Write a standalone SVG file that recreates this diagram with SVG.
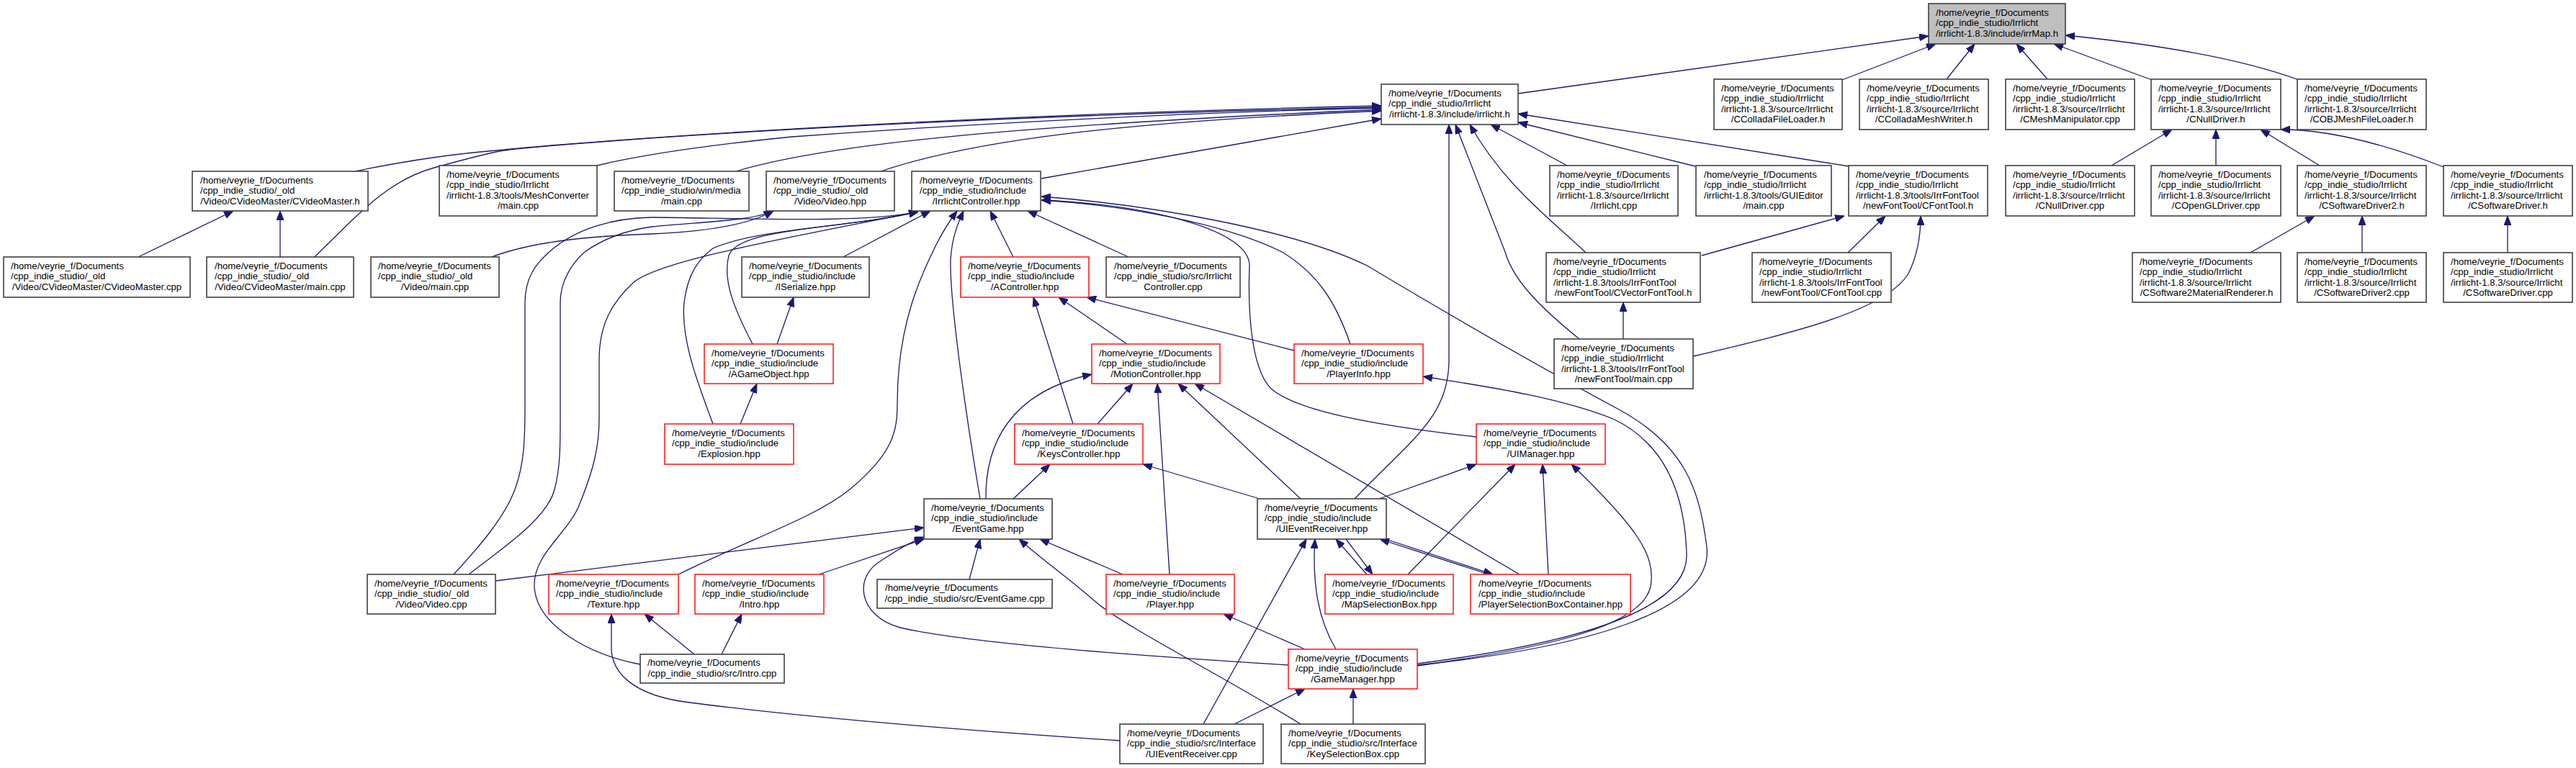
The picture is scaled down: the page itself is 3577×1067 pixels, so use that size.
<svg xmlns="http://www.w3.org/2000/svg" width="3577" height="1067" viewBox="0 0 3577 1067">
<style>
.n rect{fill:#fff;stroke:#404040;stroke-width:1.6}
.n.r rect{stroke:#ff2020}
.n.g rect{fill:#bfbfbf}
text{font-family:"Liberation Sans",Arial,sans-serif;font-size:13.2px;fill:#000}
.c{text-anchor:middle}
#edges path{fill:none;stroke:#191970;stroke-width:1.3;marker-end:url(#ah)}
</style>
<defs>
<marker id="ah" viewBox="0 0 13 10" refX="13" refY="5" markerWidth="13" markerHeight="10" markerUnits="userSpaceOnUse" orient="auto"><path d="M0,0L13,5L0,10z" fill="#191970" stroke="#191970" stroke-width="1"/></marker>
</defs>
<rect width="3577" height="1067" fill="#fff"/>
<g id="edges">
<path d="M2108,130 L2678,50"/>
<path d="M2558,111 L2688,61"/>
<path d="M2703,110 L2742,61"/>
<path d="M2843,110 L2800,61"/>
<path d="M2988,111 L2852,61"/>
<path d="M3192,111 Q3080,70 2868,49"/>
<path d="M2932,230 L3016,180"/>
<path d="M3077,230 L3077,180"/>
<path d="M3221,230 L3139,180"/>
<path d="M3393,232 Q3260,180 3167,180"/>
<path d="M3125,351 L3214,300"/>
<path d="M3280,351 L3280,300"/>
<path d="M3482,351 L3482,300"/>
<path d="M493,238 C580,220 640,213 689,209 C800,197 1300,160 1918,147"/>
<path d="M436,358 C500,295 540,250 603,233 C650,220 680,212 700,209 C820,195 1300,162 1918,149"/>
<path d="M829,230 C900,213 1000,200 1100,190 C1400,168 1700,155 1918,150"/>
<path d="M1022,238 C1150,200 1400,175 1918,152"/>
<path d="M1223,238 C1350,195 1550,170 1918,154"/>
<path d="M1446,248 L1918,165"/>
<path d="M1881,693 C1960,610 2012,580 2012,500 L2012,173"/>
<path d="M2193,471 C2130,420 2100,385 2090,350 L2021,173"/>
<path d="M2202,351 C2160,310 2090,260 2041,173"/>
<path d="M2176,230 L2070,173"/>
<path d="M2354,231 L2108,170"/>
<path d="M2567,231 L2108,158"/>
<path d="M2363,355 L2561,300"/>
<path d="M2566,351 L2618,300"/>
<path d="M2351,495 C2500,460 2620,430 2650,380 C2665,350 2667,320 2667,300"/>
<path d="M2254,471 L2254,420"/>
<path d="M1171,357 L1292,293"/>
<path d="M942,798 C1050,745 1130,720 1180,680 C1240,630 1246,600 1246,560 C1246,450 1280,380 1300,340 C1310,320 1320,305 1329,293"/>
<path d="M1361,693 C1345,600 1318,420 1320,360 C1322,330 1330,310 1338,293"/>
<path d="M1407,357 L1375,293"/>
<path d="M1567,357 L1427,293"/>
<path d="M1045,478 C1020,430 1003,390 1012,355 C1025,315 1180,318 1275,294"/>
<path d="M990,589 C968,530 945,470 950,420 C955,380 970,360 990,345 C1050,318 1180,316 1275,294"/>
<path d="M889,923 C820,910 745,870 742,815 C740,770 790,740 805,700 C825,650 832,620 832,580 L832,500 C832,450 850,420 880,392 C920,360 1100,330 1275,294"/>
<path d="M630,798 C665,760 700,720 715,680 C728,645 729,610 729,560 L729,420 C729,385 745,365 765,348 C800,318 850,303 905,302 C1000,302 1200,312 1275,294"/>
<path d="M651,798 C700,760 760,720 770,680 C778,650 778,620 778,580 L778,420 C778,390 795,365 812,350 C840,330 870,320 905,315 C970,308 1040,308 1074,293"/>
<path d="M680,358 C740,335 820,328 905,325 C980,322 1040,312 1074,293"/>
<path d="M688,807 L1283,733"/>
<path d="M1137,798 L1283,749"/>
<path d="M1346,805 L1361,749"/>
<path d="M1559,798 L1444,749"/>
<path d="M1806,1006 C1700,940 1560,870 1520,835 C1480,800 1450,780 1415,749"/>
<path d="M1789,924 C1600,912 1350,895 1250,872 C1190,855 1185,800 1225,778 C1245,765 1260,755 1283,746"/>
<path d="M964,909 L895,853"/>
<path d="M1555,1029 C1300,1012 1100,995 950,975 C880,965 849,935 849,900 L849,853"/>
<path d="M1002,909 L1030,853"/>
<path d="M1812,902 L1699,853"/>
<path d="M1524,589 L1573,533"/>
<path d="M1369,693 C1368,620 1400,545 1516,520"/>
<path d="M1624,798 L1607,533"/>
<path d="M1806,693 L1636,533"/>
<path d="M2110,798 L1659,533"/>
<path d="M1407,693 L1458,645"/>
<path d="M1746,692 L1587,645"/>
<path d="M1490,589 L1435,413"/>
<path d="M1565,478 L1470,413"/>
<path d="M1797,487 L1509,413"/>
<path d="M1079,478 L1102,413"/>
<path d="M1028,589 L1051,533"/>
<path d="M1875,478 C1855,420 1830,380 1780,350 C1700,310 1560,285 1446,278"/>
<path d="M2050,607 C1900,590 1800,570 1765,540 C1735,510 1733,420 1735,370 C1737,320 1600,285 1446,278"/>
<path d="M1968,924 C2200,900 2380,850 2370,760 C2360,680 2340,620 2250,570 C2120,500 2000,430 1900,370 C1800,320 1600,285 1446,273"/>
<path d="M1968,922 C2180,895 2345,850 2342,770 C2340,700 2320,620 2240,582 C2160,550 2050,535 1976,523"/>
<path d="M1968,925 C2150,900 2280,870 2292,815 C2300,770 2270,730 2182,645"/>
<path d="M1915,693 L2050,645"/>
<path d="M1955,798 L2104,645"/>
<path d="M2150,798 L2142,645"/>
<path d="M1898,798 L1855,749"/>
<path d="M1869,749 L1906,798"/>
<path d="M2067,798 L1916,749"/>
<path d="M1924,749 L2073,798"/>
<path d="M1855,902 C1830,860 1822,810 1826,749"/>
<path d="M1671,1006 L1814,749"/>
<path d="M1714,1006 L1812,957"/>
<path d="M1879,1006 L1879,957"/>
<path d="M192,357 L324,293"/>
<path d="M389,357 L389,293"/>
</g>
<g id="n0" class="n g"><rect x="2678" y="5" width="190" height="56"/><text x="2688" y="21.5">/home/veyrie_f/Documents</text><text x="2688" y="36">/cpp_indie_studio/Irrlicht</text><text x="2773" y="50.5" class="c">/irrlicht-1.8.3/include/irrMap.h</text></g>
<g id="n1" class="n"><rect x="1918" y="117" width="190" height="56"/><text x="1928" y="133.5">/home/veyrie_f/Documents</text><text x="1928" y="148">/cpp_indie_studio/Irrlicht</text><text x="2013" y="162.5" class="c">/irrlicht-1.8.3/include/irrlicht.h</text></g>
<g id="n2" class="n"><rect x="2380" y="110" width="178" height="70"/><text x="2390" y="126.5">/home/veyrie_f/Documents</text><text x="2390" y="141">/cpp_indie_studio/Irrlicht</text><text x="2390" y="155.5">/irrlicht-1.8.3/source/Irrlicht</text><text x="2469" y="170" class="c">/CColladaFileLoader.h</text></g>
<g id="n3" class="n"><rect x="2582" y="110" width="179" height="70"/><text x="2592" y="126.5">/home/veyrie_f/Documents</text><text x="2592" y="141">/cpp_indie_studio/Irrlicht</text><text x="2592" y="155.5">/irrlicht-1.8.3/source/Irrlicht</text><text x="2671.5" y="170" class="c">/CColladaMeshWriter.h</text></g>
<g id="n4" class="n"><rect x="2785" y="110" width="179" height="70"/><text x="2795" y="126.5">/home/veyrie_f/Documents</text><text x="2795" y="141">/cpp_indie_studio/Irrlicht</text><text x="2795" y="155.5">/irrlicht-1.8.3/source/Irrlicht</text><text x="2874.5" y="170" class="c">/CMeshManipulator.cpp</text></g>
<g id="n5" class="n"><rect x="2987" y="110" width="180" height="70"/><text x="2997" y="126.5">/home/veyrie_f/Documents</text><text x="2997" y="141">/cpp_indie_studio/Irrlicht</text><text x="2997" y="155.5">/irrlicht-1.8.3/source/Irrlicht</text><text x="3077" y="170" class="c">/CNullDriver.h</text></g>
<g id="n6" class="n"><rect x="3190" y="110" width="179" height="70"/><text x="3200" y="126.5">/home/veyrie_f/Documents</text><text x="3200" y="141">/cpp_indie_studio/Irrlicht</text><text x="3200" y="155.5">/irrlicht-1.8.3/source/Irrlicht</text><text x="3279.5" y="170" class="c">/COBJMeshFileLoader.h</text></g>
<g id="n7" class="n"><rect x="267" y="238" width="244" height="55"/><text x="278" y="254.5">/home/veyrie_f/Documents</text><text x="278" y="269">/cpp_indie_studio/_old</text><text x="389" y="283.5" class="c">/Video/CVideoMaster/CVideoMaster.h</text></g>
<g id="n8" class="n"><rect x="610" y="230" width="219" height="70"/><text x="620" y="246.5">/home/veyrie_f/Documents</text><text x="620" y="261">/cpp_indie_studio/Irrlicht</text><text x="620" y="275.5">/irrlicht-1.8.3/tools/MeshConverter</text><text x="719.5" y="290" class="c">/main.cpp</text></g>
<g id="n9" class="n"><rect x="853" y="238" width="187" height="55"/><text x="863" y="254.5">/home/veyrie_f/Documents</text><text x="863" y="269">/cpp_indie_studio/win/media</text><text x="946.5" y="283.5" class="c">/main.cpp</text></g>
<g id="n10" class="n"><rect x="1064" y="238" width="178" height="55"/><text x="1074" y="254.5">/home/veyrie_f/Documents</text><text x="1074" y="269">/cpp_indie_studio/_old</text><text x="1153" y="283.5" class="c">/Video/Video.hpp</text></g>
<g id="n11" class="n"><rect x="1266" y="238" width="179" height="55"/><text x="1277" y="254.5">/home/veyrie_f/Documents</text><text x="1277" y="269">/cpp_indie_studio/include</text><text x="1355.5" y="283.5" class="c">/IrrlichtController.hpp</text></g>
<g id="n12" class="n"><rect x="2152" y="230" width="178" height="70"/><text x="2162" y="246.5">/home/veyrie_f/Documents</text><text x="2162" y="261">/cpp_indie_studio/Irrlicht</text><text x="2162" y="275.5">/irrlicht-1.8.3/source/Irrlicht</text><text x="2241" y="290" class="c">/Irrlicht.cpp</text></g>
<g id="n13" class="n"><rect x="2355" y="230" width="188" height="70"/><text x="2366" y="246.5">/home/veyrie_f/Documents</text><text x="2366" y="261">/cpp_indie_studio/Irrlicht</text><text x="2366" y="275.5">/irrlicht-1.8.3/tools/GUIEditor</text><text x="2449" y="290" class="c">/main.cpp</text></g>
<g id="n14" class="n"><rect x="2567" y="230" width="193" height="70"/><text x="2577" y="246.5">/home/veyrie_f/Documents</text><text x="2577" y="261">/cpp_indie_studio/Irrlicht</text><text x="2577" y="275.5">/irrlicht-1.8.3/tools/IrrFontTool</text><text x="2663.5" y="290" class="c">/newFontTool/CFontTool.h</text></g>
<g id="n15" class="n"><rect x="2785" y="230" width="179" height="70"/><text x="2795" y="246.5">/home/veyrie_f/Documents</text><text x="2795" y="261">/cpp_indie_studio/Irrlicht</text><text x="2795" y="275.5">/irrlicht-1.8.3/source/Irrlicht</text><text x="2874.5" y="290" class="c">/CNullDriver.cpp</text></g>
<g id="n16" class="n"><rect x="2987" y="230" width="180" height="70"/><text x="2997" y="246.5">/home/veyrie_f/Documents</text><text x="2997" y="261">/cpp_indie_studio/Irrlicht</text><text x="2997" y="275.5">/irrlicht-1.8.3/source/Irrlicht</text><text x="3077" y="290" class="c">/COpenGLDriver.cpp</text></g>
<g id="n17" class="n"><rect x="3190" y="230" width="179" height="70"/><text x="3200" y="246.5">/home/veyrie_f/Documents</text><text x="3200" y="261">/cpp_indie_studio/Irrlicht</text><text x="3200" y="275.5">/irrlicht-1.8.3/source/Irrlicht</text><text x="3279.5" y="290" class="c">/CSoftwareDriver2.h</text></g>
<g id="n18" class="n"><rect x="3393" y="230" width="179" height="70"/><text x="3403" y="246.5">/home/veyrie_f/Documents</text><text x="3403" y="261">/cpp_indie_studio/Irrlicht</text><text x="3403" y="275.5">/irrlicht-1.8.3/source/Irrlicht</text><text x="3482.5" y="290" class="c">/CSoftwareDriver.h</text></g>
<g id="n19" class="n"><rect x="5" y="357" width="259" height="56"/><text x="15" y="373.5">/home/veyrie_f/Documents</text><text x="15" y="388">/cpp_indie_studio/_old</text><text x="134.5" y="402.5" class="c">/Video/CVideoMaster/CVideoMaster.cpp</text></g>
<g id="n20" class="n"><rect x="287" y="357" width="204" height="56"/><text x="298" y="373.5">/home/veyrie_f/Documents</text><text x="298" y="388">/cpp_indie_studio/_old</text><text x="389" y="402.5" class="c">/Video/CVideoMaster/main.cpp</text></g>
<g id="n21" class="n"><rect x="515" y="357" width="178" height="56"/><text x="525" y="373.5">/home/veyrie_f/Documents</text><text x="525" y="388">/cpp_indie_studio/_old</text><text x="604" y="402.5" class="c">/Video/main.cpp</text></g>
<g id="n22" class="n"><rect x="1030" y="357" width="177" height="56"/><text x="1040" y="373.5">/home/veyrie_f/Documents</text><text x="1040" y="388">/cpp_indie_studio/include</text><text x="1118.5" y="402.5" class="c">/ISerialize.hpp</text></g>
<g id="n23" class="n r"><rect x="1334" y="357" width="178" height="56"/><text x="1344" y="373.5">/home/veyrie_f/Documents</text><text x="1344" y="388">/cpp_indie_studio/include</text><text x="1423" y="402.5" class="c">/AController.hpp</text></g>
<g id="n24" class="n"><rect x="1536" y="357" width="186" height="56"/><text x="1547" y="373.5">/home/veyrie_f/Documents</text><text x="1547" y="388">/cpp_indie_studio/src/Irrlicht</text><text x="1629" y="402.5" class="c">Controller.cpp</text></g>
<g id="n25" class="n"><rect x="2147" y="351" width="214" height="69"/><text x="2157" y="367.5">/home/veyrie_f/Documents</text><text x="2157" y="382">/cpp_indie_studio/Irrlicht</text><text x="2157" y="396.5">/irrlicht-1.8.3/tools/IrrFontTool</text><text x="2254" y="411" class="c">/newFontTool/CVectorFontTool.h</text></g>
<g id="n26" class="n"><rect x="2433" y="351" width="193" height="69"/><text x="2443" y="367.5">/home/veyrie_f/Documents</text><text x="2443" y="382">/cpp_indie_studio/Irrlicht</text><text x="2443" y="396.5">/irrlicht-1.8.3/tools/IrrFontTool</text><text x="2529.5" y="411" class="c">/newFontTool/CFontTool.cpp</text></g>
<g id="n27" class="n"><rect x="2961" y="351" width="206" height="69"/><text x="2971" y="367.5">/home/veyrie_f/Documents</text><text x="2971" y="382">/cpp_indie_studio/Irrlicht</text><text x="2971" y="396.5">/irrlicht-1.8.3/source/Irrlicht</text><text x="3064" y="411" class="c">/CSoftware2MaterialRenderer.h</text></g>
<g id="n28" class="n"><rect x="3190" y="351" width="179" height="69"/><text x="3200" y="367.5">/home/veyrie_f/Documents</text><text x="3200" y="382">/cpp_indie_studio/Irrlicht</text><text x="3200" y="396.5">/irrlicht-1.8.3/source/Irrlicht</text><text x="3279.5" y="411" class="c">/CSoftwareDriver2.cpp</text></g>
<g id="n29" class="n"><rect x="3393" y="351" width="179" height="69"/><text x="3403" y="367.5">/home/veyrie_f/Documents</text><text x="3403" y="382">/cpp_indie_studio/Irrlicht</text><text x="3403" y="396.5">/irrlicht-1.8.3/source/Irrlicht</text><text x="3482.5" y="411" class="c">/CSoftwareDriver.cpp</text></g>
<g id="n30" class="n r"><rect x="978" y="478" width="179" height="55"/><text x="988" y="494.5">/home/veyrie_f/Documents</text><text x="988" y="509">/cpp_indie_studio/include</text><text x="1067.5" y="523.5" class="c">/AGameObject.hpp</text></g>
<g id="n31" class="n r"><rect x="1516" y="478" width="178" height="55"/><text x="1526" y="494.5">/home/veyrie_f/Documents</text><text x="1526" y="509">/cpp_indie_studio/include</text><text x="1605" y="523.5" class="c">/MotionController.hpp</text></g>
<g id="n32" class="n r"><rect x="1797" y="478" width="179" height="55"/><text x="1807" y="494.5">/home/veyrie_f/Documents</text><text x="1807" y="509">/cpp_indie_studio/include</text><text x="1886.5" y="523.5" class="c">/PlayerInfo.hpp</text></g>
<g id="n33" class="n"><rect x="2158" y="471" width="193" height="69"/><text x="2168" y="487.5">/home/veyrie_f/Documents</text><text x="2168" y="502">/cpp_indie_studio/Irrlicht</text><text x="2168" y="516.5">/irrlicht-1.8.3/tools/IrrFontTool</text><text x="2254.5" y="531" class="c">/newFontTool/main.cpp</text></g>
<g id="n34" class="n r"><rect x="923" y="589" width="179" height="56"/><text x="933" y="605.5">/home/veyrie_f/Documents</text><text x="933" y="620">/cpp_indie_studio/include</text><text x="1012.5" y="634.5" class="c">/Explosion.hpp</text></g>
<g id="n35" class="n r"><rect x="1409" y="589" width="178" height="56"/><text x="1419" y="605.5">/home/veyrie_f/Documents</text><text x="1419" y="620">/cpp_indie_studio/include</text><text x="1498" y="634.5" class="c">/KeysController.hpp</text></g>
<g id="n36" class="n r"><rect x="2050" y="589" width="179" height="56"/><text x="2060" y="605.5">/home/veyrie_f/Documents</text><text x="2060" y="620">/cpp_indie_studio/include</text><text x="2139.5" y="634.5" class="c">/UIManager.hpp</text></g>
<g id="n37" class="n"><rect x="1283" y="693" width="178" height="56"/><text x="1293" y="709.5">/home/veyrie_f/Documents</text><text x="1293" y="724">/cpp_indie_studio/include</text><text x="1372" y="738.5" class="c">/EventGame.hpp</text></g>
<g id="n38" class="n"><rect x="1746" y="693" width="179" height="56"/><text x="1756" y="709.5">/home/veyrie_f/Documents</text><text x="1756" y="724">/cpp_indie_studio/include</text><text x="1835.5" y="738.5" class="c">/UIEventReceiver.hpp</text></g>
<g id="n39" class="n"><rect x="510" y="798" width="178" height="55"/><text x="520" y="814.5">/home/veyrie_f/Documents</text><text x="520" y="829">/cpp_indie_studio/_old</text><text x="599" y="843.5" class="c">/Video/Video.cpp</text></g>
<g id="n40" class="n r"><rect x="762" y="798" width="180" height="55"/><text x="772" y="814.5">/home/veyrie_f/Documents</text><text x="772" y="829">/cpp_indie_studio/include</text><text x="852" y="843.5" class="c">/Texture.hpp</text></g>
<g id="n41" class="n r"><rect x="965" y="798" width="179" height="55"/><text x="975" y="814.5">/home/veyrie_f/Documents</text><text x="975" y="829">/cpp_indie_studio/include</text><text x="1054.5" y="843.5" class="c">/Intro.hpp</text></g>
<g id="n42" class="n"><rect x="1218" y="805" width="243" height="40"/><text x="1229" y="821">/home/veyrie_f/Documents</text><text x="1339.5" y="835.5" class="c">/cpp_indie_studio/src/EventGame.cpp</text></g>
<g id="n43" class="n r"><rect x="1536" y="798" width="178" height="55"/><text x="1546" y="814.5">/home/veyrie_f/Documents</text><text x="1546" y="829">/cpp_indie_studio/include</text><text x="1625" y="843.5" class="c">/Player.hpp</text></g>
<g id="n44" class="n r"><rect x="1840" y="798" width="178" height="55"/><text x="1850" y="814.5">/home/veyrie_f/Documents</text><text x="1850" y="829">/cpp_indie_studio/include</text><text x="1929" y="843.5" class="c">/MapSelectionBox.hpp</text></g>
<g id="n45" class="n r"><rect x="2042" y="798" width="222" height="55"/><text x="2053" y="814.5">/home/veyrie_f/Documents</text><text x="2053" y="829">/cpp_indie_studio/include</text><text x="2153" y="843.5" class="c">/PlayerSelectionBoxContainer.hpp</text></g>
<g id="n46" class="n"><rect x="889" y="909" width="200" height="40"/><text x="899" y="925">/home/veyrie_f/Documents</text><text x="989" y="939.5" class="c">/cpp_indie_studio/src/Intro.cpp</text></g>
<g id="n47" class="n r"><rect x="1789" y="902" width="179" height="55"/><text x="1799" y="918.5">/home/veyrie_f/Documents</text><text x="1799" y="933">/cpp_indie_studio/include</text><text x="1878.5" y="947.5" class="c">/GameManager.hpp</text></g>
<g id="n48" class="n"><rect x="1555" y="1006" width="199" height="55"/><text x="1565" y="1022.5">/home/veyrie_f/Documents</text><text x="1565" y="1037">/cpp_indie_studio/src/Interface</text><text x="1654.5" y="1051.5" class="c">/UIEventReceiver.cpp</text></g>
<g id="n49" class="n"><rect x="1779" y="1006" width="200" height="55"/><text x="1789" y="1022.5">/home/veyrie_f/Documents</text><text x="1789" y="1037">/cpp_indie_studio/src/Interface</text><text x="1879" y="1051.5" class="c">/KeySelectionBox.cpp</text></g>
</svg>
